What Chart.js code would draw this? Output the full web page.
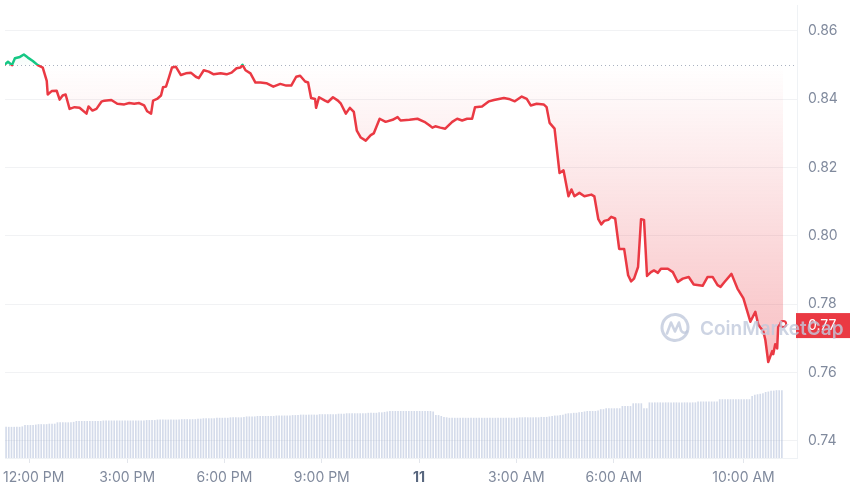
<!DOCTYPE html>
<html><head><meta charset="utf-8">
<script src="https://cdn.jsdelivr.net/npm/chart.js@4.4.1/dist/chart.umd.min.js"></script>
<style>html,body{margin:0;padding:0;background:#fff;}#wrap{width:850px;height:491px;position:relative;}</style>
</head><body><div id="wrap"><canvas id="c"></canvas></div>
<script>
// hours relative to 12:00 PM of day 1
const priceHours = [
-0.766,-0.674,-0.551,-0.460,-0.306,-0.184,-0.061,0.092,0.245,0.398,
0.521,0.551,0.674,0.827,0.919,1.011,1.103,1.225,1.379,1.532,
1.746,1.808,1.930,2.053,2.206,2.298,2.512,2.696,2.911,3.064,
3.217,3.370,3.523,3.615,3.738,3.799,3.922,4.044,4.105,4.197,
4.289,4.381,4.504,4.657,4.810,4.963,5.116,5.208,5.362,5.515,
5.668,5.882,6.066,6.219,6.373,6.495,6.556,6.648,6.801,6.955,
7.108,7.292,7.506,7.721,7.904,8.058,8.211,8.333,8.487,8.578,
8.670,8.793,8.824,8.915,9.099,9.191,9.344,9.498,9.589,9.743,
9.865,9.988,10.080,10.202,10.355,10.509,10.601,10.784,10.968,11.183,
11.336,11.428,11.703,11.949,12.163,12.316,12.408,12.500,12.653,12.806,
13.021,13.174,13.327,13.480,13.634,13.725,13.940,14.154,14.308,14.461,
14.614,14.767,14.951,15.165,15.319,15.441,15.625,15.839,15.931,16.023,
16.176,16.330,16.452,16.605,16.697,16.789,16.942,17.096,17.310,17.402,
17.525,17.616,17.708,17.831,17.923,18.045,18.168,18.321,18.444,18.536,
18.627,18.750,18.842,18.934,19.026,19.148,19.240,19.363,19.455,19.669,
19.822,19.975,20.129,20.312,20.466,20.741,20.895,21.048,21.201,21.293,
21.415,21.630,21.814,21.998,22.212,22.365,22.457,22.610,22.672,22.763,
22.886,22.917,22.978,23.039,23.070,23.193,23.223];
const prices = [
0.8502,0.8510,0.8500,0.8520,0.8524,0.8531,0.8522,0.8512,0.8500,0.8493,
0.8454,0.8414,0.8424,0.8425,0.8399,0.8411,0.8414,0.8372,0.8377,0.8375,
0.8358,0.8379,0.8367,0.8372,0.8393,0.8396,0.8398,0.8387,0.8385,0.8389,
0.8387,0.8389,0.8382,0.8365,0.8358,0.8396,0.8401,0.8411,0.8435,0.8437,
0.8464,0.8493,0.8495,0.8471,0.8476,0.8478,0.8466,0.8462,0.8485,0.8481,
0.8473,0.8476,0.8473,0.8478,0.8491,0.8493,0.8501,0.8485,0.8476,0.8449,
0.8449,0.8447,0.8437,0.8445,0.8440,0.8440,0.8466,0.8469,0.8452,0.8449,
0.8404,0.8401,0.8375,0.8406,0.8396,0.8392,0.8406,0.8396,0.8387,0.8358,
0.8375,0.8363,0.8308,0.8288,0.8279,0.8295,0.8300,0.8343,0.8334,0.8340,
0.8348,0.8338,0.8340,0.8343,0.8334,0.8324,0.8317,0.8321,0.8317,0.8314,
0.8334,0.8343,0.8338,0.8343,0.8343,0.8377,0.8379,0.8394,0.8398,0.8401,
0.8404,0.8401,0.8394,0.8408,0.8401,0.8382,0.8387,0.8385,0.8377,0.8331,
0.8314,0.8184,0.8192,0.8116,0.8136,0.8116,0.8126,0.8116,0.8121,0.8116,
0.8049,0.8034,0.8044,0.8047,0.8056,0.8051,0.7962,0.7962,0.7885,0.7867,
0.7875,0.7909,0.8049,0.8047,0.7883,0.7894,0.7899,0.7892,0.7904,0.7904,
0.7894,0.7865,0.7875,0.7880,0.7858,0.7854,0.7880,0.7880,0.7856,0.7851,
0.7865,0.7889,0.7846,0.7817,0.7749,0.7778,0.7740,0.7721,0.7697,0.7631,
0.7663,0.7654,0.7683,0.7671,0.7735,0.7748,0.7742];
const basePrice = 0.85;

// 5-minute volume bars (arbitrary units)
const volStartHour = -0.733;
const volStepHours = 5 / 60;
const volumes = [
6.8,6.8,6.8,6.8,6.8,6.8,6.9,7.2,7.2,7.2,7.2,7.3,
7.4,7.4,7.4,7.4,7.5,7.5,7.5,7.8,7.8,7.8,7.8,7.8,
7.8,7.9,8.1,8.1,8.1,8.1,8.1,8.1,8.1,8.1,8.1,8.1,
8.2,8.2,8.2,8.2,8.2,8.2,8.2,8.2,8.2,8.2,8.2,8.2,
8.2,8.2,8.2,8.2,8.3,8.3,8.3,8.3,8.4,8.4,8.4,8.4,
8.4,8.4,8.4,8.4,8.4,8.5,8.5,8.5,8.5,8.5,8.5,8.6,
8.6,8.7,8.7,8.7,8.7,8.7,8.8,8.8,8.8,8.8,8.8,8.9,
8.9,8.9,8.9,8.9,9.0,9.1,9.1,9.1,9.1,9.2,9.2,9.2,
9.2,9.2,9.2,9.2,9.3,9.3,9.3,9.3,9.3,9.3,9.4,9.4,
9.4,9.5,9.5,9.5,9.5,9.5,9.5,9.5,9.6,9.6,9.6,9.6,
9.6,9.6,9.6,9.7,9.7,9.7,9.8,9.8,9.8,9.8,9.8,9.8,
9.8,9.8,9.9,9.9,9.9,9.9,10.0,10.0,10.1,10.2,10.3,10.3,
10.3,10.3,10.3,10.3,10.3,10.3,10.3,10.3,10.3,10.3,10.3,10.3,
10.3,10.3,10.2,9.4,9.4,9.2,9.0,8.9,8.8,8.8,8.8,8.8,
8.8,8.8,8.8,8.8,8.8,8.8,8.8,8.8,8.8,8.8,8.8,8.8,
8.8,8.8,8.8,8.8,8.8,8.8,8.8,8.8,8.8,8.8,8.9,8.9,
8.9,8.9,8.9,8.9,8.9,8.9,9.0,9.0,9.0,9.1,9.2,9.3,
9.3,9.4,9.5,9.7,9.8,9.8,9.9,9.9,10.0,10.1,10.2,10.3,
10.3,10.3,10.3,10.4,10.7,10.7,10.9,10.9,10.9,10.9,10.9,10.9,
11.4,11.4,11.4,11.4,12.0,12.0,12.0,12.0,10.9,10.9,12.2,12.2,
12.2,12.2,12.2,12.2,12.2,12.2,12.2,12.2,12.2,12.2,12.2,12.2,
12.2,12.2,12.2,12.2,12.4,12.4,12.4,12.4,12.4,12.4,12.4,12.4,
12.9,12.9,12.9,12.9,12.9,12.9,12.9,12.9,12.9,12.9,12.9,12.9,
13.6,13.9,14.0,14.1,14.2,14.5,14.6,14.8,14.8,14.9,14.9,14.9];

const yTicks = [0.74, 0.76, 0.78, 0.80, 0.82, 0.84, 0.86];
const xTickHours = [0, 3, 6, 9, 12, 15, 18, 22];
const xTickLabels = ['12:00 PM','3:00 PM','6:00 PM','9:00 PM','11','3:00 AM','6:00 AM','10:00 AM'];

const RED = '#ea3943', GREEN = '#16c784';

function strokeGrad(c) {
  const chart = c.chart, a = chart.chartArea, y = chart.scales.y;
  if (!a || !y) return RED;
  const g = chart.ctx.createLinearGradient(0, a.top, 0, a.bottom);
  let f = (y.getPixelForValue(basePrice) - a.top) / (a.bottom - a.top);
  f = Math.min(1, Math.max(0, f));
  g.addColorStop(0, GREEN); g.addColorStop(f, GREEN);
  g.addColorStop(f, RED); g.addColorStop(1, RED);
  return g;
}
function fillGrad(c) {
  const chart = c.chart, a = chart.chartArea, y = chart.scales.y;
  if (!a || !y) return 'rgba(234,57,67,0.1)';
  const low = y.getPixelForValue(Math.min(...prices));
  const g = chart.ctx.createLinearGradient(0, a.top, 0, low);
  let f = (y.getPixelForValue(basePrice) - a.top) / (low - a.top);
  f = Math.min(1, Math.max(0, f));
  g.addColorStop(0, 'rgba(22,199,132,0.12)');
  g.addColorStop(f, 'rgba(22,199,132,0.02)');
  g.addColorStop(f, 'rgba(234,57,67,0.0)');
  g.addColorStop(1, 'rgba(234,57,67,0.32)');
  return g;
}

const overlay = {
  id: 'overlay',
  beforeDatasetsDraw(chart) {
    const {ctx, chartArea: a, scales: {y}} = chart;
    const by = Math.round(y.getPixelForValue(basePrice)) + 0.5;
    ctx.save();
    ctx.strokeStyle = '#a9b1c0'; ctx.lineWidth = 1; ctx.setLineDash([1, 3]);
    ctx.beginPath(); ctx.moveTo(a.left, by); ctx.lineTo(a.right, by); ctx.stroke();
    ctx.restore();
  },
  afterDraw(chart) {
    const {ctx, chartArea: a, scales: {x, y}} = chart;
    ctx.save();
    // x labels
    ctx.textBaseline = 'alphabetic';
    xTickHours.forEach((h, i) => {
      const bold = xTickLabels[i] === '11';
      ctx.font = (bold ? '700 ' : '400 ') + '14px Inter';
      ctx.fillStyle = bold ? '#58667e' : '#808a9d';
      const w = ctx.measureText(xTickLabels[i]).width;
      let left = x.getPixelForValue(h) - w / 2;
      left = Math.max(3, Math.min(left, chart.width - w - 3));
      ctx.textAlign = 'left';
      ctx.fillText(xTickLabels[i], left, a.bottom + 24);
    });
    // current price tag
    const last = prices[prices.length - 1];
    const py = y.getPixelForValue(last);
    ctx.fillStyle = RED;
    ctx.fillRect(a.right - 1, py - 11, chart.width - a.right + 1, 25);
    ctx.fillStyle = '#fff'; ctx.font = '400 14px Inter';
    ctx.textBaseline = 'middle'; ctx.textAlign = 'left';
    ctx.fillText(last.toFixed(2), a.right + 11, py + 2);
    // watermark
    ctx.globalAlpha = 0.8;
    ctx.strokeStyle = 'rgb(192,201,220)'; ctx.fillStyle = 'rgb(192,201,220)';
    ctx.lineWidth = 3; ctx.lineCap = 'round'; ctx.lineJoin = 'round';
    const cx = 675, cy = 327.5;
    ctx.beginPath(); ctx.arc(cx, cy, 13, -0.2 * Math.PI, 1.75 * Math.PI); ctx.stroke();
    ctx.lineWidth = 2.6;
    ctx.beginPath();
    ctx.moveTo(cx - 8, cy + 6); ctx.lineTo(cx - 4, cy - 5); ctx.lineTo(cx, cy + 4);
    ctx.lineTo(cx + 4, cy - 5); ctx.lineTo(cx + 6, cy + 3); ctx.quadraticCurveTo(cx + 9, cy + 7, cx + 12, cy + 4);
    ctx.stroke();
    ctx.font = '600 19px Inter'; ctx.textBaseline = 'alphabetic'; ctx.textAlign = 'left';
    ctx.fillText('CoinMarketCap', 700, 335);
    ctx.restore();
  }
};

new Chart(document.getElementById('c'), {
  type: 'line',
  data: {
    datasets: [
      {
        type: 'line', order: 0,
        data: priceHours.map((h, i) => ({x: h, y: prices[i]})),
        borderColor: strokeGrad, backgroundColor: fillGrad,
        fill: {value: basePrice},
        borderWidth: 2.5, tension: 0, borderJoinStyle: 'round', borderCapStyle: 'round',
        pointRadius: c => c.dataIndex === prices.length - 1 ? 3 : 0,
        pointBorderWidth: 2, pointBorderColor: RED, pointBackgroundColor: '#fff',
        pointHoverRadius: 0
      },
      {
        type: 'bar', order: 1, yAxisID: 'yv',
        data: volumes.map((v, i) => ({x: volStartHour + i * volStepHours, y: v})),
        backgroundColor: 'rgba(160,176,208,0.45)', borderWidth: 0, barThickness: 1
      }
    ]
  },
  options: {
    responsive: true, maintainAspectRatio: false, animation: false,
    layout: {padding: 0},
    plugins: {legend: {display: false}, tooltip: {enabled: false}},
    scales: {
      x: {
        type: 'linear', min: -0.766, max: 23.65, offset: false,
        grid: {offset: false, drawOnChartArea: false, drawTicks: true, tickLength: 5, color: '#e3e6ec'},
        border: {display: true, color: '#eff2f5'},
        ticks: {display: false},
        afterBuildTicks(s) { s.ticks = xTickHours.map(v => ({value: v})); },
        afterFit(s) { s.height = 33; s.paddingLeft = 0; s.paddingRight = 0; }
      },
      y: {
        position: 'right', min: 0.735, max: 0.8676,
        afterBuildTicks(s) { s.ticks = yTicks.map(v => ({value: v})); },
        afterFit(s) { s.width = 53; s.paddingTop = 0; s.paddingBottom = 0; },
        grid: {color: '#f1f2f4', drawTicks: false},
        border: {display: true, color: '#eff2f5'},
        ticks: {padding: 11, color: '#808a9d', font: {family: 'Inter', size: 14}, callback: v => Number(v).toFixed(2)}
      },
      yv: {display: false, min: 0, max: 100}
    }
  },
  plugins: [overlay]
});
</script>
</body></html>
